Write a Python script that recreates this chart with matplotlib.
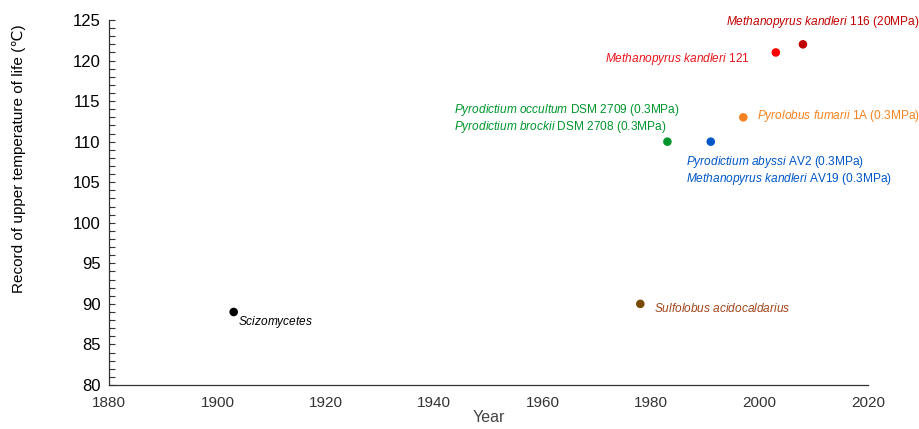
import matplotlib
matplotlib.use("Agg")
import matplotlib.pyplot as plt
from matplotlib.ticker import MultipleLocator

plt.rcParams['font.family'] = ['Liberation Sans', 'DejaVu Sans']
plt.rcParams['mathtext.fontset'] = 'custom'
plt.rcParams['mathtext.rm'] = 'Liberation Sans'
plt.rcParams['mathtext.it'] = 'Liberation Sans:italic'

years = [1903, 1978, 1983, 1991, 1997, 2003, 2008]
temps = [89, 90, 110, 110, 113, 121, 122]
point_colors = ['#000000', '#7a4a00', '#00962e', '#0057c8', '#f58220', '#ff0000', '#c00000']
text_colors = ['#000000', '#a0441a', '#00962e', '#0057c8', '#f58220', '#e8141c', '#c00000']
labels = [
    r"$\it{Scizomycetes}$",
    r"$\it{Sulfolobus\ acidocaldarius}$",
    r"$\it{Pyrodictium\ occultum}$ DSM 2709 (0.3MPa)" + "\n" + r"$\it{Pyrodictium\ brockii}$ DSM 2708 (0.3MPa)",
    r"$\it{Pyrodictium\ abyssi}$ AV2 (0.3MPa)" + "\n" + r"$\it{Methanopyrus\ kandleri}$ AV19 (0.3MPa)",
    r"$\it{Pyrolobus\ fumarii}$ 1A (0.3MPa)",
    r"$\it{Methanopyrus\ kandleri}$ 121",
    r"$\it{Methanopyrus\ kandleri}$ 116 (20MPa)",
]
# label offsets in points (dx, dy) and alignment
offsets = [(3, -7, 'left', 'center'),
           (10, -3, 'left', 'center'),
           (-154, 17, 'left', 'center'),
           (-18, -21, 'left', 'center'),
           (10, 1, 'left', 'center'),
           (-19, -5, 'right', 'center'),
           (84, 16, 'right', 'center')]

fig = plt.figure(figsize=(9.2, 4.29), dpi=100)
ax = fig.add_axes([109/920, 1 - 385/429, (868-109)/920, (385-20)/429])

for x, y, pc, tc, lab, (dx, dy, ha, va) in zip(years, temps, point_colors, text_colors, labels, offsets):
    ax.scatter([x], [y], s=38, color=pc, zorder=3, edgecolors='none')
    ax.annotate(lab, (x, y), xytext=(dx, dy), textcoords='offset points',
                ha=ha, va=va, color=tc, fontsize=8.6, linespacing=1.1)

ax.set_xlim(1880, 2020)
ax.set_ylim(80, 125)
ax.xaxis.set_major_locator(MultipleLocator(20))
ax.yaxis.set_major_locator(MultipleLocator(5))
ax.yaxis.set_minor_locator(MultipleLocator(1))
ax.tick_params(axis='y', which='both', direction='in', length=4, width=0.8, labelsize=12, colors='#333333', labelcolor='#000000', pad=6)
ax.tick_params(axis='x', which='both', length=0, labelsize=11, pad=8, labelcolor='#333333')
for s in ['top', 'right']:
    ax.spines[s].set_visible(False)
for s in ['left', 'bottom']:
    ax.spines[s].set_color('#333333')
    ax.spines[s].set_linewidth(0.9)

ax.set_xlabel('Year', fontsize=11.5, color='#444444', labelpad=0)
ax.set_ylabel('Record of upper temperature of life (\u2103)', fontsize=11)
ax.yaxis.set_label_coords(-0.109, 0.62)

fig.savefig('out.png', dpi=100)
